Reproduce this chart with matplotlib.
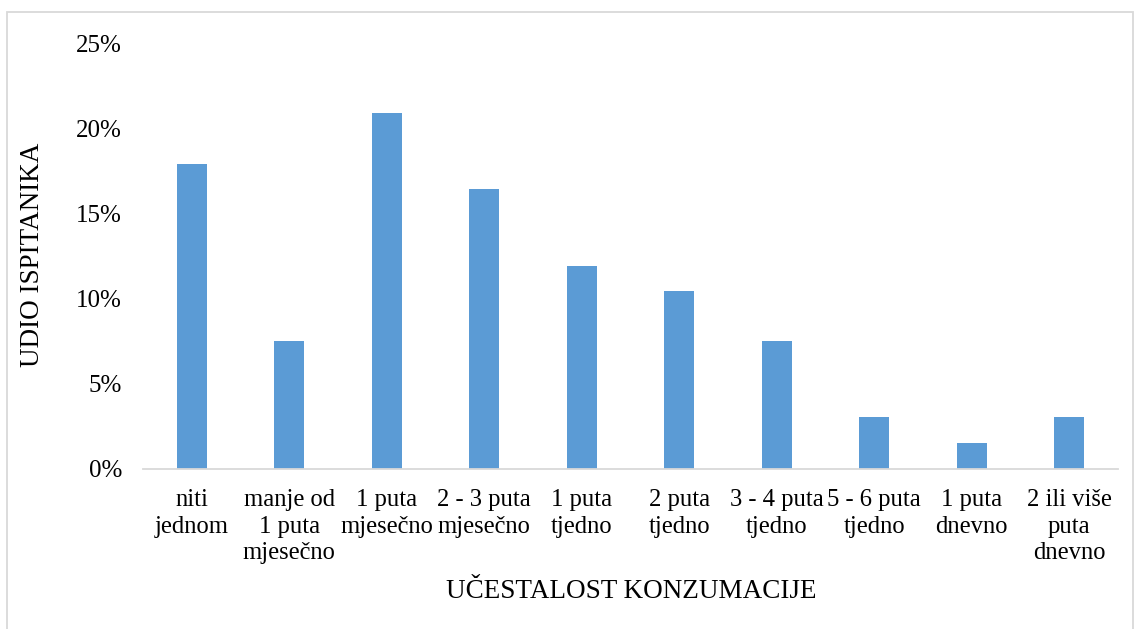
import matplotlib
matplotlib.use("Agg")
import matplotlib.pyplot as plt
import matplotlib.ticker as ticker
from matplotlib.patches import Rectangle

# ---------------------------------------------------------------------------
# Data
# ---------------------------------------------------------------------------
categories = [
    "niti\njednom",
    "manje od\n1 puta\nmjesečno",
    "1 puta\nmjesečno",
    "2 - 3 puta\nmjesečno",
    "1 puta\ntjedno",
    "2 puta\ntjedno",
    "3 - 4 puta\ntjedno",
    "5 - 6 puta\ntjedno",
    "1 puta\ndnevno",
    "2 ili više\nputa\ndnevno",
]
shares = [17.9, 7.5, 20.9, 16.4, 11.9, 10.4, 7.5, 3.0, 1.5, 3.0]
y_ticks = [0, 5, 10, 15, 20, 25]

x_title = "UČESTALOST KONZUMACIJE"
y_title = "UDIO ISPITANIKA"

# ---------------------------------------------------------------------------
# Plot
# ---------------------------------------------------------------------------
plt.rcParams["font.family"] = ["Liberation Serif", "DejaVu Serif"]
W, H = 1135, 629
fig = plt.figure(figsize=(W / 100, H / 100), dpi=100)
ax = fig.add_axes([143 / W, 1 - 468.5 / H, (1118 - 143) / W, (468.5 - 43) / H])

x = list(range(len(categories)))
ax.bar(x, shares, width=0.31, color="#5B9BD5", zorder=2)

ax.set_xlim(-0.5, len(categories) - 0.5)
ax.set_ylim(0, 25)
ax.set_yticks(y_ticks)
ax.yaxis.set_major_formatter(ticker.FuncFormatter(lambda v, p: f"{v:.0f}%"))
ax.set_xticks(x)
ax.set_xticklabels(categories, fontsize=17.7, linespacing=1.25)
ax.tick_params(axis="y", labelsize=18, length=0, pad=15)
ax.tick_params(axis="x", length=0, pad=15)

for side in ("top", "right", "left"):
    ax.spines[side].set_visible(False)
ax.spines["bottom"].set_color("#D9D9D9")
ax.spines["bottom"].set_linewidth(1.3)

fig.text(631 / W, 1 - 591 / H, x_title, fontsize=19.5, ha="center", va="center")
fig.text(33 / W, 1 - 255 / H, y_title, fontsize=19.5, ha="center", va="center",
         rotation=90)

# light chart border
fig.patches.append(Rectangle((7 / W, -0.05), (1133 - 7) / W, 1.05 - 12 / H,
                             transform=fig.transFigure, fill=False,
                             edgecolor="#D9D9D9", linewidth=1.3))

fig.savefig("out.png", dpi=100)
